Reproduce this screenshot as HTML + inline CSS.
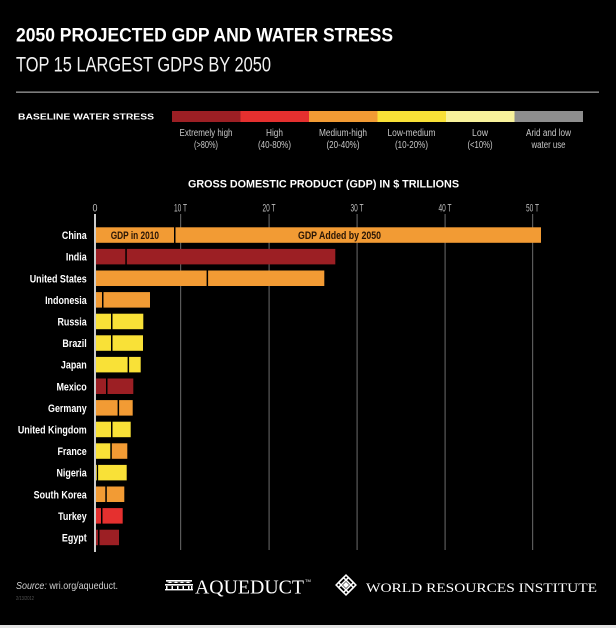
<!DOCTYPE html>
<html><head><meta charset="utf-8"><style>
html,body{margin:0;padding:0;background:#000;}
svg{display:block;}
</style></head><body>
<svg width="616" height="628" viewBox="0 0 616 628" xmlns="http://www.w3.org/2000/svg" font-family="Liberation Sans, sans-serif">
<rect x="0" y="0" width="616" height="628" fill="#000"/>
<!-- Titles -->
<text x="16" y="41.5" font-size="19.5" font-weight="bold" fill="#fff" textLength="377" lengthAdjust="spacingAndGlyphs">2050 PROJECTED GDP AND WATER STRESS</text>
<text x="16" y="71.5" font-size="21" fill="#f2f2f2" textLength="255" lengthAdjust="spacingAndGlyphs">TOP 15 LARGEST GDPS BY 2050</text>
<rect x="16" y="91.5" width="583" height="1.3" fill="#9a9a9a"/>

<!-- Legend -->
<text x="18" y="119.5" font-size="8.6" font-weight="bold" fill="#fff" textLength="136" lengthAdjust="spacingAndGlyphs">BASELINE WATER STRESS</text>
<rect x="172" y="111" width="68.5" height="11" fill="#9c1f24"/>
<rect x="240.5" y="111" width="68.5" height="11" fill="#e5302f"/>
<rect x="309" y="111" width="68.5" height="11" fill="#f29b34"/>
<rect x="377.5" y="111" width="68.5" height="11" fill="#f9e137"/>
<rect x="446" y="111" width="68.5" height="11" fill="#f8f29b"/>
<rect x="514.5" y="111" width="68.5" height="11" fill="#8e8e8e"/>
<g font-size="10" fill="#c8c8c8" text-anchor="middle">
<text x="206" y="136" textLength="53" lengthAdjust="spacingAndGlyphs">Extremely high</text>
<text x="206" y="148" textLength="24" lengthAdjust="spacingAndGlyphs">(&gt;80%)</text>
<text x="274.5" y="136" textLength="17" lengthAdjust="spacingAndGlyphs">High</text>
<text x="274.5" y="148" textLength="33" lengthAdjust="spacingAndGlyphs">(40-80%)</text>
<text x="343" y="136" textLength="48" lengthAdjust="spacingAndGlyphs">Medium-high</text>
<text x="343" y="148" textLength="33" lengthAdjust="spacingAndGlyphs">(20-40%)</text>
<text x="411.5" y="136" textLength="48" lengthAdjust="spacingAndGlyphs">Low-medium</text>
<text x="411.5" y="148" textLength="33" lengthAdjust="spacingAndGlyphs">(10-20%)</text>
<text x="480" y="136" textLength="16" lengthAdjust="spacingAndGlyphs">Low</text>
<text x="480" y="148" textLength="25" lengthAdjust="spacingAndGlyphs">(&lt;10%)</text>
<text x="548.5" y="136" textLength="45" lengthAdjust="spacingAndGlyphs">Arid and low</text>
<text x="548.5" y="148" textLength="34" lengthAdjust="spacingAndGlyphs">water use</text>
</g>

<!-- Chart title -->
<text x="188" y="187.3" font-size="11" font-weight="bold" fill="#fff" textLength="271" lengthAdjust="spacingAndGlyphs">GROSS DOMESTIC PRODUCT (GDP) IN $ TRILLIONS</text>

<!-- Ticks -->
<g font-size="11" fill="#bdbdbd" text-anchor="middle">
<text x="95" y="211.5" textLength="5" lengthAdjust="spacingAndGlyphs">0</text>
<text x="180.5" y="211.5" textLength="13" lengthAdjust="spacingAndGlyphs">10 T</text>
<text x="269" y="211.5" textLength="13" lengthAdjust="spacingAndGlyphs">20 T</text>
<text x="357" y="211.5" textLength="13" lengthAdjust="spacingAndGlyphs">30 T</text>
<text x="445" y="211.5" textLength="13" lengthAdjust="spacingAndGlyphs">40 T</text>
<text x="532.5" y="211.5" textLength="13" lengthAdjust="spacingAndGlyphs">50 T</text>
</g>
<!-- Gridlines -->
<g fill="#5a5a5a">
<rect x="180" y="214" width="1.2" height="336"/>
<rect x="268.5" y="214" width="1.2" height="336"/>
<rect x="356.5" y="214" width="1.2" height="336"/>
<rect x="444.5" y="214" width="1.2" height="336"/>
<rect x="532" y="214" width="1.2" height="336"/>
</g>

<!-- Bars -->
<g>
<rect x="96" y="227.3" width="78" height="15.5" fill="#f29b34"/>
<rect x="175.5" y="227.3" width="365.5" height="15.5" fill="#f29b34"/>
<rect x="96" y="248.9" width="29.3" height="15.5" fill="#9c1f24"/>
<rect x="126.8" y="248.9" width="208.5" height="15.5" fill="#9c1f24"/>
<rect x="96" y="270.5" width="110.6" height="15.5" fill="#f29b34"/>
<rect x="208.1" y="270.5" width="116.2" height="15.5" fill="#f29b34"/>
<rect x="96" y="292.1" width="6" height="15.5" fill="#f29b34"/>
<rect x="103.5" y="292.1" width="46.5" height="15.5" fill="#f29b34"/>
<rect x="96" y="313.7" width="15" height="15.5" fill="#f9e137"/>
<rect x="112.5" y="313.7" width="30.8" height="15.5" fill="#f9e137"/>
<rect x="96" y="335.3" width="15" height="15.5" fill="#f9e137"/>
<rect x="112.5" y="335.3" width="30.5" height="15.5" fill="#f9e137"/>
<rect x="96" y="356.9" width="31.6" height="15.5" fill="#f9e137"/>
<rect x="129.1" y="356.9" width="11.6" height="15.5" fill="#f9e137"/>
<rect x="96" y="378.5" width="10" height="15.5" fill="#9c1f24"/>
<rect x="107.5" y="378.5" width="25.8" height="15.5" fill="#9c1f24"/>
<rect x="96" y="400.1" width="21.6" height="15.5" fill="#f29b34"/>
<rect x="119.1" y="400.1" width="13.6" height="15.5" fill="#f29b34"/>
<rect x="96" y="421.7" width="15" height="15.5" fill="#f9e137"/>
<rect x="112.5" y="421.7" width="18.2" height="15.5" fill="#f9e137"/>
<rect x="96" y="443.3" width="14.3" height="15.5" fill="#f9e137"/>
<rect x="111.8" y="443.3" width="15.5" height="15.5" fill="#f29b34"/>
<rect x="96" y="464.9" width="0.8" height="15.5" fill="#f9e137"/>
<rect x="98.1" y="464.9" width="28.6" height="15.5" fill="#f9e137"/>
<rect x="96" y="486.5" width="9.3" height="15.5" fill="#f29b34"/>
<rect x="106.8" y="486.5" width="17.5" height="15.5" fill="#f29b34"/>
<rect x="96" y="508.1" width="5" height="15.5" fill="#e5302f"/>
<rect x="102.5" y="508.1" width="20.2" height="15.5" fill="#e5302f"/>
<rect x="96" y="529.7" width="2" height="15.5" fill="#9c1f24"/>
<rect x="99.5" y="529.7" width="19.5" height="15.5" fill="#9c1f24"/>
</g>
<!-- Axis line -->
<rect x="94.2" y="214" width="1.6" height="338" fill="#fff"/>

<!-- In-bar labels -->
<text x="110.7" y="239" font-size="11" font-weight="bold" fill="#2a1606" textLength="48.3" lengthAdjust="spacingAndGlyphs">GDP in 2010</text>
<text x="298" y="239" font-size="11" font-weight="bold" fill="#2a1606" textLength="83" lengthAdjust="spacingAndGlyphs">GDP Added by 2050</text>

<!-- Country labels -->
<g font-size="11.3" font-weight="bold" fill="#fff" text-anchor="end">
<text transform="translate(86.7,239.1) scale(0.79,1)">China</text>
<text transform="translate(86.7,260.7) scale(0.79,1)">India</text>
<text transform="translate(86.7,282.3) scale(0.79,1)">United States</text>
<text transform="translate(86.7,303.9) scale(0.79,1)">Indonesia</text>
<text transform="translate(86.7,325.5) scale(0.79,1)">Russia</text>
<text transform="translate(86.7,347.1) scale(0.79,1)">Brazil</text>
<text transform="translate(86.7,368.7) scale(0.79,1)">Japan</text>
<text transform="translate(86.7,390.3) scale(0.79,1)">Mexico</text>
<text transform="translate(86.7,411.9) scale(0.79,1)">Germany</text>
<text transform="translate(86.7,433.5) scale(0.79,1)">United Kingdom</text>
<text transform="translate(86.7,455.1) scale(0.79,1)">France</text>
<text transform="translate(86.7,476.7) scale(0.79,1)">Nigeria</text>
<text transform="translate(86.7,498.3) scale(0.79,1)">South Korea</text>
<text transform="translate(86.7,519.9) scale(0.79,1)">Turkey</text>
<text transform="translate(86.7,541.5) scale(0.79,1)">Egypt</text>
</g>

<!-- Footer -->
<text x="16" y="589" font-size="10.5" fill="#cfcfcf" textLength="102" lengthAdjust="spacingAndGlyphs"><tspan font-style="italic">Source:</tspan> wri.org/aqueduct.</text>
<text x="16" y="600" font-size="5" fill="#555" textLength="18" lengthAdjust="spacingAndGlyphs">2/13/2012</text>

<!-- Aqueduct icon -->
<g fill="#fff">
<rect x="166" y="580" width="26" height="1.6"/>
<path d="M167 583 L170 581.6 L173 583 L176 581.6 L179 583 L182 581.6 L185 583 L188 581.6 L191 583 Z"/>
<rect x="165" y="584" width="28" height="1.6"/>
<rect x="166" y="586" width="1.5" height="4"/>
<rect x="171.5" y="586" width="1.5" height="4"/>
<rect x="177" y="586" width="1.5" height="4"/>
<rect x="182.5" y="586" width="1.5" height="4"/>
<rect x="188" y="586" width="1.5" height="4"/>
<rect x="191" y="586" width="1.5" height="4"/>
<rect x="165" y="589" width="28" height="1.4"/>
</g>
<text x="195" y="593.3" font-family="Liberation Serif, serif" font-size="20" fill="#fff" textLength="109" lengthAdjust="spacingAndGlyphs">AQUEDUCT</text>
<text x="305" y="582" font-size="4" fill="#fff">TM</text>

<!-- WRI icon -->
<g transform="translate(346,585) rotate(45)" fill="none" stroke="#fff" stroke-width="1.5">
<rect x="-7" y="-7" width="14" height="14"/>
<rect x="-3.5" y="-7" width="7" height="14"/>
<rect x="-7" y="-3.5" width="14" height="7"/>
<rect x="-1.5" y="-1.5" width="3" height="3" fill="#fff"/>
</g>
<text x="366" y="592" font-family="Liberation Serif, serif" font-size="12.5" fill="#fff" textLength="231" lengthAdjust="spacingAndGlyphs">WORLD RESOURCES INSTITUTE</text>

<!-- bottom border -->
<rect x="0" y="625" width="616" height="3" fill="#e3e3e3"/>
</svg>
</body></html>
